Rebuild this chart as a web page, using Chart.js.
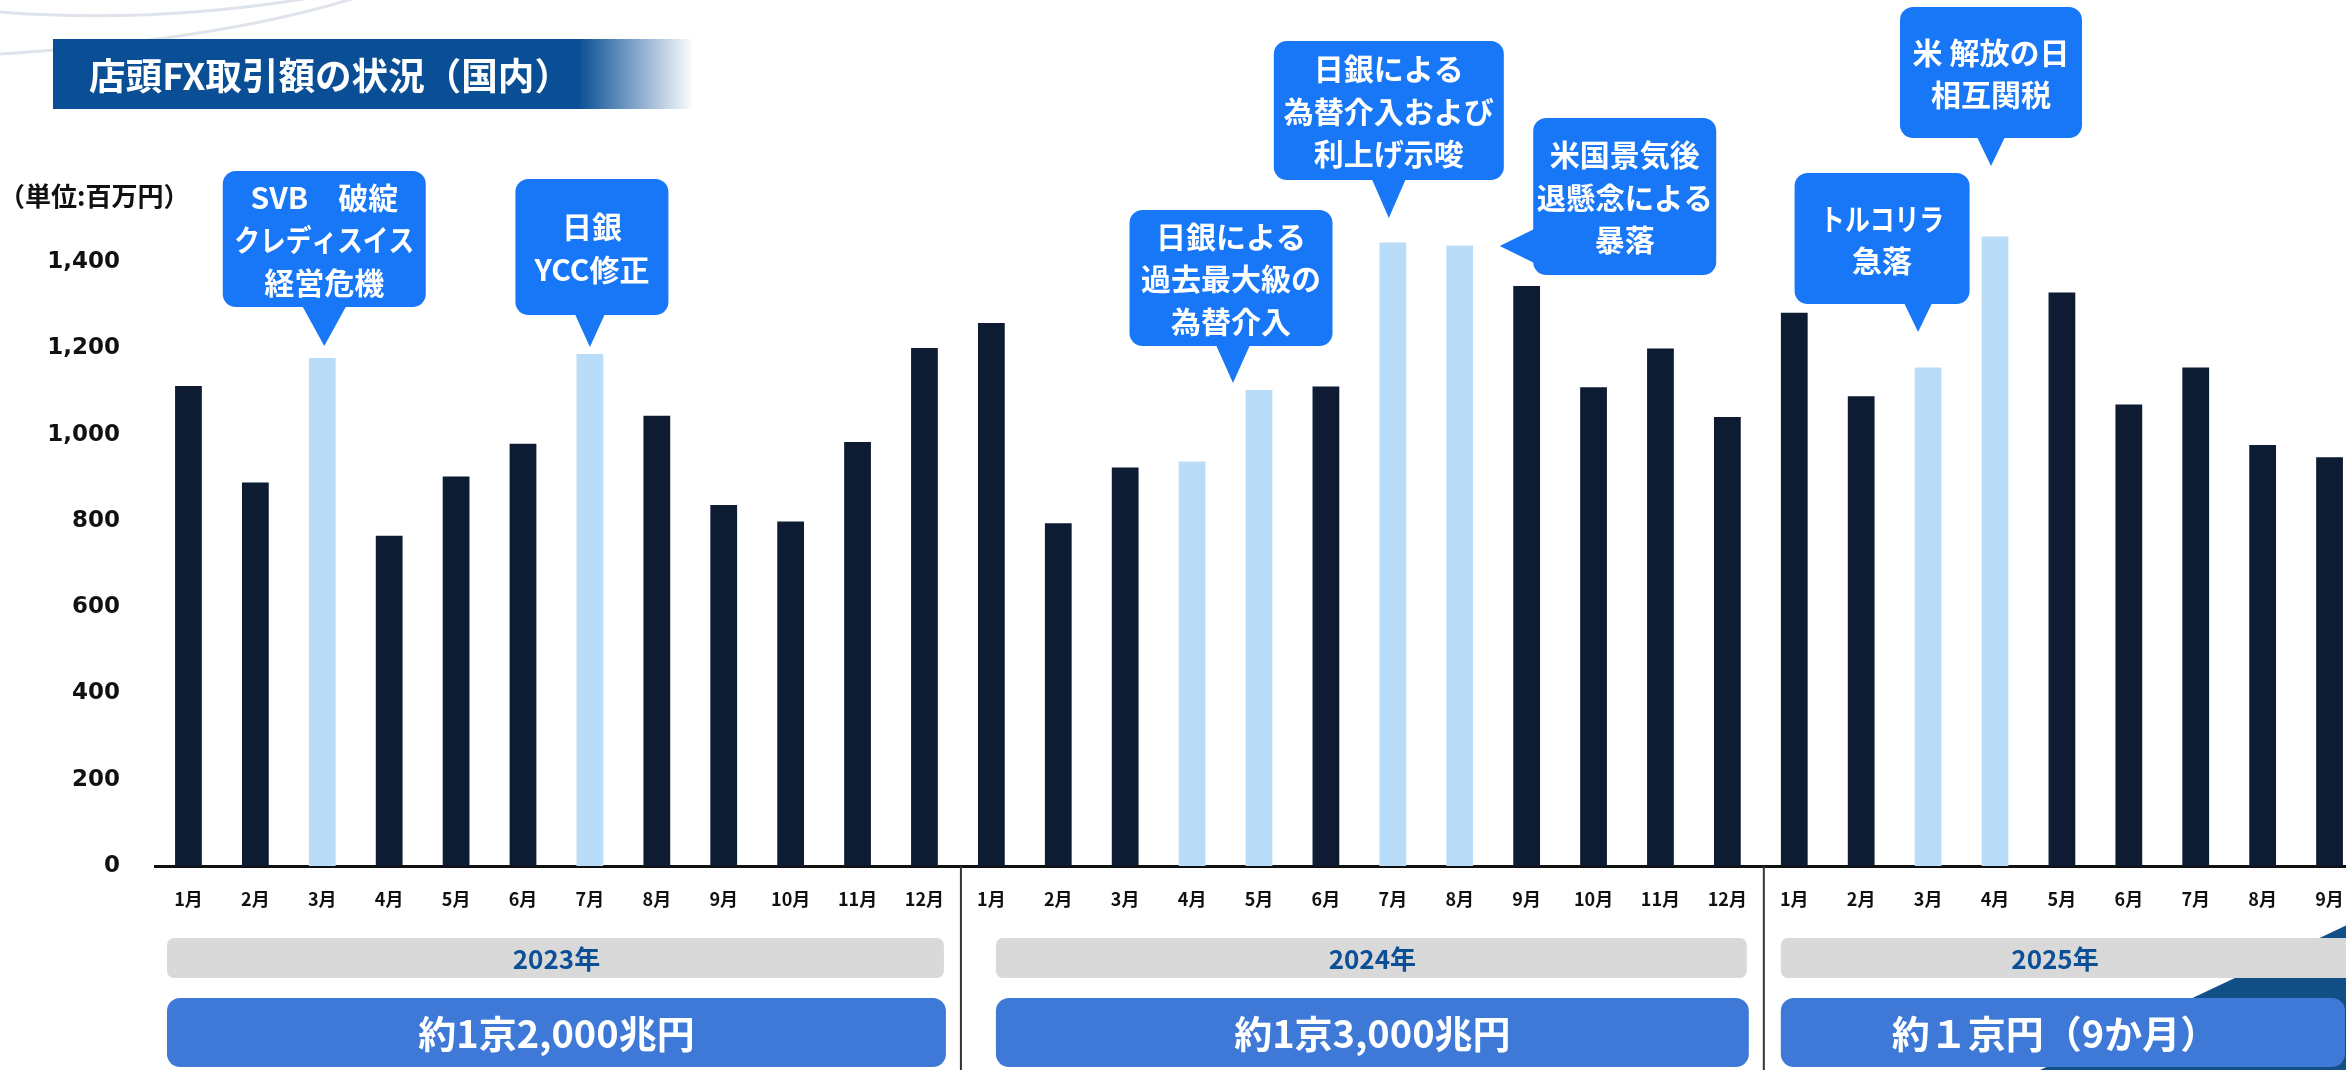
<!DOCTYPE html>
<html lang="ja">
<head>
<meta charset="UTF-8">
<title>店頭FX取引額の状況（国内）</title>
<script src="https://cdn.jsdelivr.net/npm/chart.js"></script>
<style>
    html, body { margin: 0; padding: 0; background: #fff; overflow: hidden; }
    .wrap { position: relative; width: 2400px; height: 1070px; }
</style>
</head>
<body>
<div class="wrap"><canvas id="fxChart"></canvas></div>
<script>
    // 月次データ（単位: 百万円）
    const months2023 = ['1月','2月','3月','4月','5月','6月','7月','8月','9月','10月','11月','12月'];
    const months2024 = ['1月','2月','3月','4月','5月','6月','7月','8月','9月','10月','11月','12月'];
    const months2025 = ['1月','2月','3月','4月','5月','6月','7月','8月','9月'];
    const fx2023 = [1113, 889, 1178, 766, 903, 979, 1187, 1044, 837, 799, 983, 1201];
    const fx2024 = [1259, 795, 924, 938, 1104, 1112, 1446, 1439, 1345, 1110, 1200, 1041];
    const fx2025 = [1283, 1089, 1156, 1460, 1330, 1070, 1156, 976, 948];
    // イベント月（薄い色の棒）
    const event2023 = ['3月', '7月'];
    const event2024 = ['4月', '5月', '7月', '8月'];
    const event2025 = ['3月', '4月'];
    const yearNames = ['2023年', '2024年', '2025年'];
    const yearTotals = ['約1京2,000兆円', '約1京3,000兆円', '約１京円（9か月）'];
    const yTicks = [0, 200, 400, 600, 800, 1000, 1200, 1400];
    const calloutTexts = [
        ['SVB　破綻', 'クレディスイス', '経営危機'],
        ['日銀', 'YCC修正'],
        ['日銀による', '過去最大級の', '為替介入'],
        ['日銀による', '為替介入および', '利上げ示唆'],
        ['米国景気後', '退懸念による', '暴落'],
        ['トルコリラ', '急落'],
        ['米 解放の日', '相互関税']
    ];

    const labels = [...months2023, ...months2024, ...months2025];
    const values = [...fx2023, ...fx2024, ...fx2025];
    const isEvent = [
        ...months2023.map(m => event2023.includes(m)),
        ...months2024.map(m => event2024.includes(m)),
        ...months2025.map(m => event2025.includes(m))
    ];
    const groups = [
        { from: 0, to: months2023.length - 1 },
        { from: months2023.length, to: months2023.length + months2024.length - 1 },
        { from: months2023.length + months2024.length, to: labels.length - 1 }
    ];

    // 吹き出しの配置（棒の位置からの相対）
    const calloutLayout = [
        { bar: 2,  dx: 2,   top: 171, w: 203, h: 136, tip: 'down', tipDx: 2,   tipY: 346, half: 22, fit: 180 },
        { bar: 6,  dx: 2,   top: 179, w: 153, h: 136, tip: 'down', tipDx: 0,   tipY: 347, half: 15, fit: 140 },
        { bar: 16, dx: -28, top: 210, w: 203, h: 136, tip: 'down', tipDx: -26, tipY: 383, half: 17, fit: 192 },
        { bar: 18, dx: -4,  top: 41,  w: 230, h: 139, tip: 'down', tipDx: -4,  tipY: 218, half: 17, fit: 216 },
        { bar: 19, dx: 165, top: 118, w: 183, h: 157, tip: 'left', tipDx: 40,  tipY: 246, half: 17, fit: 176 },
        { bar: 26, dx: -46, top: 173, w: 175, h: 131, tip: 'down', tipDx: -10, tipY: 332, half: 14, fit: 124 },
        { bar: 27, dx: -4,  top: 7,   w: 182, h: 131, tip: 'down', tipDx: -4,  tipY: 166, half: 14, fit: 170 }
    ];

    const JP = '"Noto Sans CJK JP", "Noto Sans", sans-serif';
    const NAVY = '#0d1b33';
    const LIGHT = '#b9ddf9';
    const BUBBLE = '#1877f6';

    const decor = {
        id: 'decor',
        beforeDraw(chart) {
            const ctx = chart.ctx;
            ctx.save();
            // 背景の弧
            ctx.strokeStyle = '#dfe3ea';
            ctx.lineWidth = 3;
            ctx.beginPath();
            ctx.moveTo(0, 12);
            ctx.quadraticCurveTo(150, 24, 310, -2);
            ctx.stroke();
            ctx.beginPath();
            ctx.moveTo(0, 54);
            ctx.quadraticCurveTo(220, 40, 355, -2);
            ctx.stroke();

            // タイトル帯
            const g = ctx.createLinearGradient(53, 0, 694, 0);
            g.addColorStop(0, '#0a4f96');
            g.addColorStop(0.82, '#0a4f96');
            g.addColorStop(1, 'rgba(10,79,150,0)');
            ctx.fillStyle = g;
            ctx.fillRect(53, 39, 641, 70);
            ctx.fillStyle = '#fff';
            ctx.font = 'bold 37px ' + JP;
            ctx.textAlign = 'left';
            ctx.textBaseline = 'middle';
            ctx.fillText('店頭FX取引額の状況（国内）', 89, 76, 482);

            // 単位
            ctx.fillStyle = '#111';
            ctx.font = 'bold 26px ' + JP;
            ctx.fillText('（単位:百万円）', -1, 196);

            // 右下の装飾
            ctx.fillStyle = '#124f86';
            ctx.beginPath();
            ctx.moveTo(2400, 900);
            ctx.lineTo(2040, 1070);
            ctx.lineTo(2400, 1070);
            ctx.closePath();
            ctx.fill();
            ctx.restore();
        },
        afterDraw(chart) {
            const ctx = chart.ctx;
            const x = chart.scales.x;
            const step = x.getPixelForValue(1) - x.getPixelForValue(0);
            const base = chart.chartArea.bottom;
            ctx.save();

            // 年の区切り線
            ctx.strokeStyle = '#333';
            ctx.lineWidth = 2;
            groups.slice(1).forEach(gr => {
                const sx = x.getPixelForValue(gr.from) - step / 2 + 3;
                ctx.beginPath();
                ctx.moveTo(sx, base);
                ctx.lineTo(sx, 1070);
                ctx.stroke();
            });

            // 年ラベルと合計
            const insetL = [12, 38, 20], pillR = [14, 14, -40], boxR = [12, 12, 18];
            groups.forEach((gr, i) => {
                const l = x.getPixelForValue(gr.from) - step / 2 + insetL[i];
                const edge = x.getPixelForValue(gr.to) + step / 2;
                const pr = edge - pillR[i], br = edge - boxR[i];
                ctx.fillStyle = '#d9d9d9';
                ctx.beginPath();
                ctx.roundRect(l, 938, pr - l, 40, 7);
                ctx.fill();
                ctx.fillStyle = '#3f79d8';
                ctx.beginPath();
                ctx.roundRect(l, 998, br - l, 69, 13);
                ctx.fill();
                const cx = i === 2 ? 2055 : (l + br) / 2;
                ctx.textAlign = 'center';
                ctx.textBaseline = 'middle';
                ctx.fillStyle = '#0b4f97';
                ctx.font = 'bold 26px ' + JP;
                ctx.fillText(yearNames[i], cx, 959);
                ctx.fillStyle = '#fff';
                ctx.font = 'bold 38px ' + JP;
                ctx.fillText(yearTotals[i], cx, 1034);
            });

            // 吹き出し
            calloutLayout.forEach((c, i) => {
                const bx = x.getPixelForValue(c.bar);
                const left = bx + c.dx - c.w / 2;
                const top = c.top;
                ctx.fillStyle = BUBBLE;
                ctx.beginPath();
                ctx.roundRect(left, top, c.w, c.h, 13);
                ctx.fill();
                ctx.beginPath();
                const tx = bx + c.tipDx;
                if (c.tip === 'down') {
                    ctx.moveTo(tx - c.half, top + c.h - 1);
                    ctx.lineTo(tx + c.half, top + c.h - 1);
                    ctx.lineTo(tx, c.tipY);
                } else {
                    ctx.moveTo(left + 1, c.tipY - c.half);
                    ctx.lineTo(left + 1, c.tipY + c.half);
                    ctx.lineTo(tx, c.tipY);
                }
                ctx.closePath();
                ctx.fill();

                const lines = calloutTexts[i];
                const lh = 42.5;
                const cy = top + c.h / 2 + 1;
                ctx.fillStyle = '#fff';
                ctx.font = 'bold 30px ' + JP;
                ctx.textAlign = 'center';
                ctx.textBaseline = 'middle';
                lines.forEach((t, k) => {
                    const ty = cy + (k - (lines.length - 1) / 2) * lh;
                    ctx.fillText(t, left + c.w / 2, ty, c.fit);
                });
            });
            ctx.restore();
        }
    };

    Chart.defaults.font.family = JP;

    new Chart(document.getElementById('fxChart'), {
        type: 'bar',
        data: {
            labels: labels,
            datasets: [{
                data: values,
                backgroundColor: isEvent.map(e => e ? LIGHT : NAVY),
                borderWidth: 0,
                barPercentage: 0.4,
                categoryPercentage: 1
            }]
        },
        options: {
            responsive: true,
            maintainAspectRatio: false,
            animation: false,
            layout: { padding: { top: 176, right: 37, left: 0, bottom: 0 } },
            plugins: {
                legend: { display: false },
                tooltip: { enabled: false }
            },
            scales: {
                x: {
                    offset: true,
                    grid: { display: false, drawTicks: false },
                    border: { display: true, color: '#111', width: 3 },
                    ticks: {
                        autoSkip: false,
                        maxRotation: 0,
                        padding: 22,
                        color: '#111',
                        font: { family: JP, size: 18, weight: 'bold' }
                    },
                    afterFit(scale) { scale.height = 204; }
                },
                y: {
                    min: 0,
                    max: 1600,
                    grid: { display: false, drawTicks: false },
                    border: { display: false },
                    afterBuildTicks(scale) { scale.ticks = yTicks.map(v => ({ value: v })); },
                    ticks: {
                        padding: 35,
                        color: '#111',
                        font: { family: '"DejaVu Sans", Verdana, sans-serif', size: 23, weight: 'bold' },
                        callback: v => v.toLocaleString('en-US')
                    },
                    afterFit(scale) { scale.width = 155; }
                }
            }
        },
        plugins: [decor]
    });
</script>
</body>
</html>
